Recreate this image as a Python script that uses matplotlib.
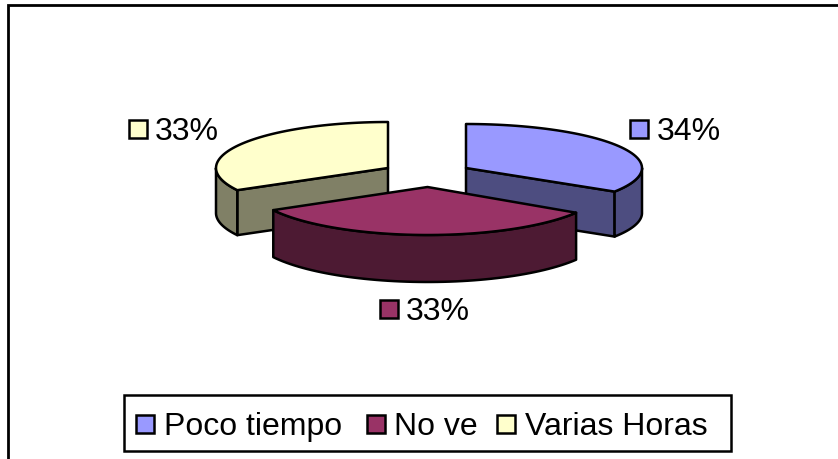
import numpy as np
import matplotlib
matplotlib.use("Agg")
import matplotlib.pyplot as plt
from matplotlib.patches import Polygon, Rectangle

categories = ["Poco tiempo", "No ve", "Varias Horas"]
values = [34, 33, 33]
value_labels = ["34%", "33%", "33%"]

top_colors = ["#9999FF", "#993366", "#FFFFCC"]
side_colors = ["#4D4D80", "#4D1A33", "#808066"]

W, H = 838, 459
APEX = [(466, 168), (427.5, 187), (388, 168)]
RX = [176, 176, 172]
RY = [44, 48, 46]
DEPTH = [45, 47, 45]
LW = 1.8
FONT = "Liberation Sans"
FS = 23

fig = plt.figure(figsize=(W / 100, H / 100), dpi=100)
ax = fig.add_axes([0, 0, 1, 1])
ax.set_xlim(0, W)
ax.set_ylim(H, 0)
ax.axis("off")

# outer frame
ax.plot([8, 8, W], [H, 5, 5], color="black", lw=2.0, solid_joinstyle="miter")

fracs = np.array(values) / sum(values)
edges = np.concatenate([[0], np.cumsum(fracs)]) * 2 * np.pi


def rim(i, a0, a1, n=60):
    t = np.linspace(a0, a1, n)
    return np.column_stack([APEX[i][0] + RX[i] * np.sin(t),
                            APEX[i][1] - RY[i] * np.cos(t)])


def extrude(pts, d):
    return np.vstack([pts, (pts + [0, d])[::-1]])


def poly(pts, color, z):
    ax.add_patch(Polygon(pts, closed=True, facecolor=color, edgecolor="black",
                         lw=LW, joinstyle="round", zorder=z))


def draw_wedge(i, z):
    a0, a1 = edges[i], edges[i + 1]
    apex = np.array([APEX[i]], dtype=float)
    d = DEPTH[i]
    if i == 0:      # right slice: inner cut at its end angle, rim up to 3 o'clock
        cut = np.vstack([apex, rim(i, a1, a1, 1)])
        poly(extrude(cut, d), side_colors[i], z)
        poly(extrude(rim(i, np.pi / 2, a1), d), side_colors[i], z)
    elif i == 2:    # left slice: inner cut at its start angle, rim up to 9 o'clock
        cut = np.vstack([apex, rim(i, a0, a0, 1)])
        poly(extrude(cut, d), side_colors[i], z)
        poly(extrude(rim(i, a0, 3 * np.pi / 2), d), side_colors[i], z)
    else:           # front slice: only the rim shows
        poly(extrude(rim(i, a0, a1), d), side_colors[i], z)
    poly(np.vstack([apex, rim(i, a0, a1)]), top_colors[i], z + 0.5)


draw_wedge(2, 2)
draw_wedge(0, 3)
draw_wedge(1, 4)


def swatch(x, y, color, size=18):
    ax.add_patch(Rectangle((x, y), size, size, facecolor=color, edgecolor="black",
                           lw=LW, zorder=6))


# data labels
label_pos = [(630, 120, 657, 140), (380, 300, 406, 320), (129, 120, 155, 140)]
for (mx, my, tx, ty), lab, col in zip(label_pos, value_labels, top_colors):
    swatch(mx, my, col)
    ax.text(tx, ty, lab, family=FONT, fontsize=FS, color="black", va="baseline", ha="left", zorder=6)

# legend
ax.add_patch(Rectangle((123.5, 395), 607.5, 56, facecolor="white", edgecolor="black", lw=LW, zorder=5))
legend_pos = [(136, 164), (367, 394), (497, 525)]
for (mx, tx), name, col in zip(legend_pos, categories, top_colors):
    swatch(mx, 415, col)
    ax.text(tx, 435, name, family=FONT, fontsize=FS, color="black", va="baseline", ha="left", zorder=6)

fig.savefig("out.png", dpi=100, facecolor="white")
